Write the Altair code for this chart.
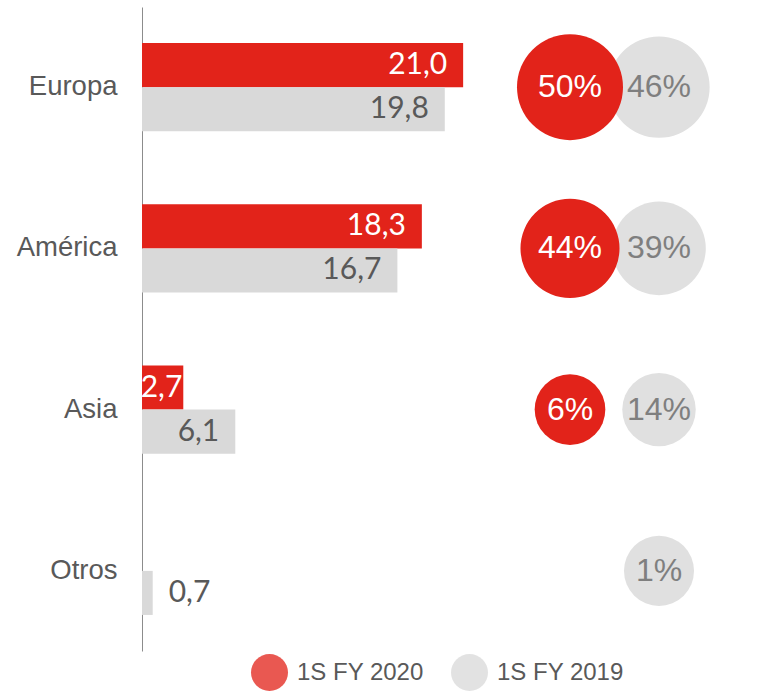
import altair as alt
import pandas as pd

regions = ["Europa", "América", "Asia", "Otros"]
series = ["1S FY 2020", "1S FY 2019"]
ventas_2020 = [21.0, 18.3, 2.7, None]
ventas_2019 = [19.8, 16.7, 6.1, 0.7]
pct_2020 = [50, 44, 6, None]
pct_2019 = [46, 39, 14, 1]

rows = []
for i, r in enumerate(regions):
    for s, v, p in ((series[0], ventas_2020[i], pct_2020[i]), (series[1], ventas_2019[i], pct_2019[i])):
        if v is None:
            continue
        rows.append({"region": r, "series": s, "value": v,
                     "label": f"{v:.1f}".replace(".", ","),
                     "pct": p, "pct_label": f"{p}%"})
df = pd.DataFrame(rows)

RED = "#E2231A"
GREY_BAR = "#D9D9D9"
GREY_BUB = "#E0E0E0"
TXT = "#595959"

y_enc = alt.Y("region:N", sort=regions, title=None,
              scale=alt.Scale(paddingInner=0.4534, paddingOuter=0.2236),
              axis=alt.Axis(ticks=False, labelFontSize=27.5, labelColor=TXT,
                            labelFont="Liberation Sans", labelPadding=25,
                            domainColor="#8C8C8C", domainWidth=1, grid=False))
yoff = alt.YOffset("series:N", sort=series,
                   scale=alt.Scale(domain=series, paddingInner=0, paddingOuter=0))
x_bar = alt.X("value:Q", scale=alt.Scale(domain=[0, 38.45]), axis=None)

base = alt.Chart(df)

bars = base.mark_bar().encode(
    x=x_bar, y=y_enc, yOffset=yoff,
    color=alt.Color("series:N", sort=series,
                    scale=alt.Scale(domain=series, range=[RED, GREY_BAR]),
                    legend=alt.Legend(title=None, orient="none", direction="horizontal",
                                      legendX=109, legendY=647, symbolType="circle",
                                      symbolSize=1369, symbolOpacity=0.76,
                                      symbolStrokeWidth=0, labelFontSize=24,
                                      labelFont="Liberation Sans", labelColor=TXT,
                                      labelOffset=9, columnPadding=27, padding=0)),
)

txt_color = alt.condition(alt.datum.series == series[0], alt.value("white"), alt.value(TXT))

lab_in = base.transform_filter(alt.datum.value >= 5).mark_text(
    align="right", baseline="middle", dx=-16, font="Lato", fontSize=30
).encode(x=x_bar, y=y_enc, yOffset=yoff, text="label:N", color=txt_color)

lab_small_red = base.transform_filter(
    (alt.datum.value < 5) & (alt.datum.series == series[0])
).mark_text(align="right", baseline="middle", dx=-1, font="Lato", fontSize=30).encode(
    x=x_bar, y=y_enc, yOffset=yoff, text="label:N", color=txt_color)

lab_small_grey = base.transform_filter(
    (alt.datum.value < 5) & (alt.datum.series == series[1])
).mark_text(align="left", baseline="middle", dx=16, font="Lato", fontSize=30).encode(
    x=x_bar, y=y_enc, yOffset=yoff, text="label:N", color=txt_color)

bar_layer = alt.layer(bars, lab_in, lab_small_red, lab_small_grey)

x_bub = alt.X("series:N", sort=series, axis=None,
              scale=alt.Scale(type="point", domain=series, range=[428, 517], padding=0))

bubbles = base.mark_circle(opacity=1).encode(
    x=x_bub, y=y_enc,
    size=alt.Size("pct:Q", legend=None,
                  scale=alt.Scale(type="pow", exponent=2, domain=[0, 50], range=[4900, 11236])),
    color=alt.condition(alt.datum.series == series[0], alt.value(RED), alt.value(GREY_BUB)),
    order=alt.Order("pct_order:Q"),
).transform_calculate(pct_order="datum.series == '1S FY 2020' ? 1 : 0")

bub_text = base.mark_text(baseline="middle", align="center", font="Liberation Sans",
                          fontSize=32).encode(
    x=x_bub, y=y_enc, text="pct_label:N",
    color=alt.condition(alt.datum.series == series[0], alt.value("white"), alt.value("#7F7F7F")),
)

bub_layer = alt.layer(bubbles, bub_text)

chart = alt.layer(bar_layer, bub_layer).resolve_scale(x="independent").properties(
    width=588, height=644,
    padding={"left": 142, "top": 7, "right": 51, "bottom": 40},
    autosize=alt.AutoSizeParams(type="none"),
).configure_view(strokeWidth=0)

chart.save("out.html", embed_options={"renderer": "svg", "actions": False})
